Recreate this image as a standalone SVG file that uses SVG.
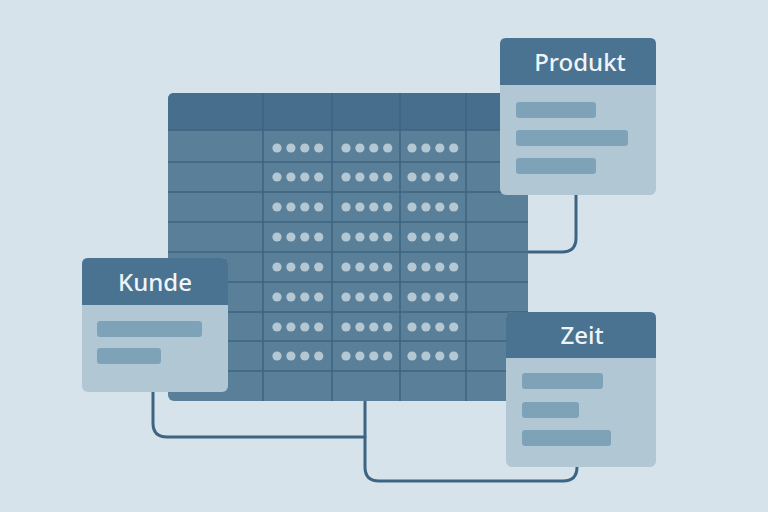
<svg xmlns="http://www.w3.org/2000/svg" width="768" height="512" viewBox="0 0 768 512">
<defs>
<style>
.bg{fill:#d6e3ea}
.tbody{fill:#5a7f99}
.thead{fill:#476f8d}
.grid{stroke:#3d6482;stroke-width:1.5;fill:none}
.dot{fill:#b4c8d4}
.cbody{fill:#b1c7d3}
.chead{fill:#4a7291}
.bar{fill:#7ea3b9}
.title{font-family:"Noto Sans","Open Sans",sans-serif;font-size:24px;font-weight:500;fill:#eef4f7;text-anchor:middle}
.conn{stroke:#3d6483;stroke-width:3;fill:none;stroke-linecap:round}
</style>
<g id="dots4">
<circle class="dot" cx="0" cy="0" r="4.6"/>
<circle class="dot" cx="13.9" cy="0" r="4.6"/>
<circle class="dot" cx="27.8" cy="0" r="4.6"/>
<circle class="dot" cx="41.7" cy="0" r="4.6"/>
</g>
</defs>
<rect class="bg" x="0" y="0" width="768" height="512"/>

<g id="connectors">
<path class="conn" d="M576 195 V238 Q576 252 562 252 H528"/>
<path class="conn" d="M153 392 V423 Q153 437 167 437 H365"/>
<path class="conn" d="M365 401 V467 Q365 481 379 481 H563 Q577 481 577 467"/>
</g>

<g id="fact-table">
<rect class="tbody" x="168" y="93" width="360" height="308" rx="6"/>
<path class="thead" d="M174 93 H528 V130 H168 V99 Q168 93 174 93 Z"/>
<g class="grid">
<line x1="168" y1="130" x2="528" y2="130"/>
<line x1="168" y1="162" x2="528" y2="162"/>
<line x1="168" y1="192" x2="528" y2="192"/>
<line x1="168" y1="222" x2="528" y2="222"/>
<line x1="168" y1="252" x2="528" y2="252"/>
<line x1="168" y1="282" x2="528" y2="282"/>
<line x1="168" y1="312" x2="528" y2="312"/>
<line x1="168" y1="341" x2="528" y2="341"/>
<line x1="168" y1="371" x2="528" y2="371"/>
<line x1="263" y1="93" x2="263" y2="401"/>
<line x1="332" y1="93" x2="332" y2="401"/>
<line x1="400" y1="93" x2="400" y2="401"/>
<line x1="466" y1="93" x2="466" y2="401"/>
</g>
<g>
<use href="#dots4" x="277" y="148"/><use href="#dots4" x="346" y="148"/><use href="#dots4" x="412" y="148"/>
<use href="#dots4" x="277" y="177"/><use href="#dots4" x="346" y="177"/><use href="#dots4" x="412" y="177"/>
<use href="#dots4" x="277" y="207"/><use href="#dots4" x="346" y="207"/><use href="#dots4" x="412" y="207"/>
<use href="#dots4" x="277" y="237"/><use href="#dots4" x="346" y="237"/><use href="#dots4" x="412" y="237"/>
<use href="#dots4" x="277" y="267"/><use href="#dots4" x="346" y="267"/><use href="#dots4" x="412" y="267"/>
<use href="#dots4" x="277" y="297"/><use href="#dots4" x="346" y="297"/><use href="#dots4" x="412" y="297"/>
<use href="#dots4" x="277" y="327"/><use href="#dots4" x="346" y="327"/><use href="#dots4" x="412" y="327"/>
<use href="#dots4" x="277" y="356"/><use href="#dots4" x="346" y="356"/><use href="#dots4" x="412" y="356"/>
</g>
</g>

<g id="produkt">
<rect class="cbody" x="500" y="38" width="156" height="157" rx="6"/>
<path class="chead" d="M506 38 H650 Q656 38 656 44 V85 H500 V44 Q500 38 506 38 Z"/>
<text class="title" x="580" y="71">Produkt</text>
<rect class="bar" x="516" y="102" width="80" height="16" rx="3"/>
<rect class="bar" x="516" y="130" width="112" height="16" rx="3"/>
<rect class="bar" x="516" y="158" width="80" height="16" rx="3"/>
</g>

<g id="kunde">
<rect class="cbody" x="82" y="258" width="146" height="134" rx="6"/>
<path class="chead" d="M88 258 H222 Q228 258 228 264 V305 H82 V264 Q82 258 88 258 Z"/>
<text class="title" x="155" y="291">Kunde</text>
<rect class="bar" x="97" y="321" width="105" height="16" rx="3"/>
<rect class="bar" x="97" y="348" width="64" height="16" rx="3"/>
</g>

<g id="zeit">
<rect class="cbody" x="506" y="312" width="150" height="155" rx="6"/>
<path class="chead" d="M512 312 H650 Q656 312 656 318 V358 H506 V318 Q506 312 512 312 Z"/>
<text class="title" x="582" y="344">Zeit</text>
<rect class="bar" x="522" y="373" width="81" height="16" rx="3"/>
<rect class="bar" x="522" y="402" width="57" height="16" rx="3"/>
<rect class="bar" x="522" y="430" width="89" height="16" rx="3"/>
</g>
</svg>
